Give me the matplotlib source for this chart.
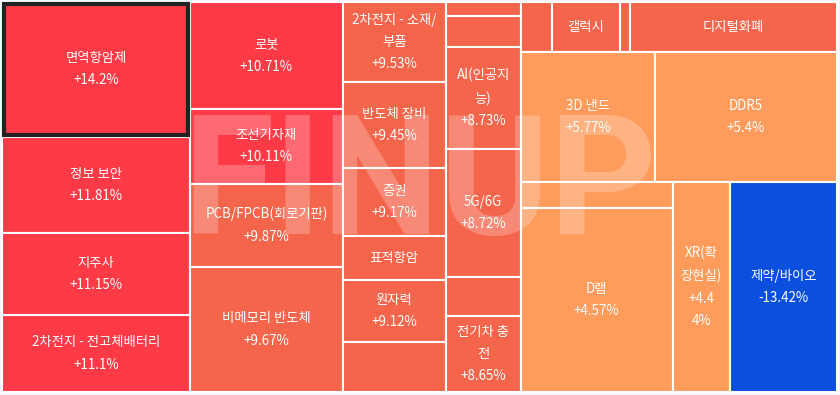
import matplotlib
matplotlib.use("Agg")
import matplotlib.pyplot as plt
from matplotlib.patches import Rectangle

plt.rcParams['font.family'] = ['Noto Sans CJK KR', 'DejaVu Sans']

# theme data (sorted by daily change), area weights
names = ["면역항암제", "정보 보안", "지주사", "2차전지 - 전고체배터리",
         "로봇", "조선기자재", "PCB/FPCB(회로기판)", "비메모리 반도체",
         "2차전지 - 소재/부품", "반도체 장비", "증권", "표적항암", "원자력", "",
         "", "", "AI(인공지능)", "5G/6G", "", "전기차 충전",
         "", "갤럭시", "", "디지털화폐",
         "3D 낸드", "DDR5",
         "", "D램", "XR(확장현실)", "제약/바이오"]
changes = [14.2, 11.81, 11.15, 11.1,
           10.71, 10.11, 9.87, 9.67,
           9.53, 9.45, 9.17, 9.15, 9.12, 9.0,
           8.9, 8.8, 8.73, 8.72, 8.7, 8.65,
           8.5, 8.0, 7.5, 7.0,
           5.77, 5.4,
           5.0, 4.57, 4.44, -13.42]
weights = [25300, 18100, 15400, 14500,
           16300, 11400, 12700, 19100,
           8200, 8900, 7000, 4500, 6400, 5100,
           1050, 2300, 7700, 9600, 2900, 5700,
           1570, 3400, 500, 10400,
           17400, 23600,
           3900, 28000, 12000, 22500]

# nesting of the treemap: 'h' = side by side, 'v' = stacked
tree = ('h', [('v', [0, 1, 2, 3]),
              ('v', [4, 5, 6, 7]),
              ('v', [8, 9, 10, 11, 12, 13]),
              ('v', [14, 15, 16, 17, 18, 19]),
              ('v', [('h', [20, 21, 22, 23]),
                     ('h', [24, 25]),
                     ('h', [('v', [26, 27]), 28, 29])])])
selected = 0


def total(node):
    if isinstance(node, int):
        return weights[node]
    return sum(total(c) for c in node[1])


def layout(node, x, y, w, h, out):
    if isinstance(node, int):
        out[node] = (x, y, w, h)
        return
    d, kids = node
    s = total(node)
    pos = 0.0
    for k in kids:
        f = total(k) / s
        if d == 'h':
            layout(k, x + pos * w, y, f * w, h, out)
        else:
            layout(k, x, y + pos * h, w, f * h, out)
        pos += f


def color_for(v):
    if v < 0:
        return '#0b4fdf'
    if v >= 10:
        return '#ff3a47'
    if v >= 6:
        return '#f5654b'
    return '#ff9c5b'


fig = plt.figure(figsize=(8.4, 3.95), dpi=100, facecolor='#f5f6fa')
ax = fig.add_axes([0, 0, 1, 1])
ax.set_xlim(0, 840)
ax.set_ylim(395, 0)
ax.axis('off')

rects = {}
layout(tree, 2, 2, 835, 390, rects)
renderer = fig.canvas.get_renderer()
FS = 9.6


def text_w(s):
    t = ax.text(0, 0, s, fontsize=FS)
    wpx = t.get_window_extent(renderer).width
    t.remove()
    return wpx


def wrap(s, maxw):
    lines, cur = [], ""
    for ch in s:
        if cur and text_w(cur + ch) > maxw:
            lines.append(cur.rstrip())
            cur = ch.lstrip()
        else:
            cur += ch
    if cur:
        lines.append(cur)
    return lines


for i, (x, y, w, h) in rects.items():
    ax.add_patch(Rectangle((x, y), w, h, facecolor=color_for(changes[i]),
                           edgecolor='white', linewidth=1.5))

# watermark
ax.text(420, 188, "FINUP", fontsize=120, fontweight='bold', color='white',
        alpha=0.24, ha='center', va='center', family='Roboto')

for i, (x, y, w, h) in rects.items():
    if not names[i]:
        continue
    lines = wrap(names[i], w - 14)
    if h >= 55:
        v = changes[i]
        pct = ("+" if v > 0 else "") + f"{v:g}%"
        lines += wrap(pct, w - 26)
    ax.text(x + w / 2, y + h / 2, "\n".join(lines), fontsize=FS, color='white',
            ha='center', va='center', linespacing=1.75, multialignment='center')

x, y, w, h = rects[selected]
ax.add_patch(Rectangle((x + 2, y + 2), w - 4, h - 4, facecolor='none',
                       edgecolor='#222222', linewidth=3))

fig.savefig("out.png", dpi=100, facecolor=fig.get_facecolor())
